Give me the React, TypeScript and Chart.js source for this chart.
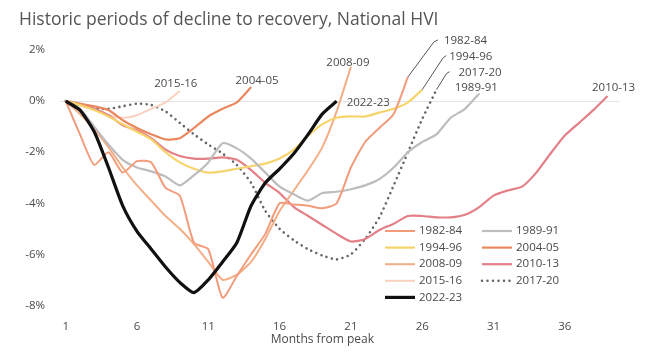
import { useEffect, useRef } from "react";
import { Chart, registerables } from "chart.js";

Chart.register(...registerables);

const titleText = "Historic periods of decline to recovery, National HVI";
const xAxisTitle = "Months from peak";
const months = [1, 2, 3, 4, 5, 6, 7, 8, 9, 10, 11, 12, 13, 14, 15, 16, 17, 18, 19, 20, 21, 22, 23, 24, 25, 26, 27, 28, 29, 30, 31, 32, 33, 34, 35, 36, 37, 38, 39];
const xTicks = [1, 6, 11, 16, 21, 26, 31, 36];
const yTicks = [-8, -6, -4, -2, 0, 2];

const seriesNames = ["1982-84", "1989-91", "1994-96", "2004-05", "2008-09", "2010-13", "2015-16", "2017-20", "2022-23"];

const s1982 = [0, -1.3, -2.5, -2.0, -2.8, -2.35, -2.4, -3.4, -3.7, -5.55, -5.8, -7.7, -6.85, -6.0, -5.2, -4.0, -4.05, -4.1, -4.2, -4.0, -2.6, -1.6, -1.05, -0.5, 0.95];
const s1989 = [0, -0.3, -1.0, -1.7, -2.3, -2.6, -2.75, -2.95, -3.3, -2.9, -2.4, -1.65, -1.85, -2.25, -2.8, -3.35, -3.65, -3.9, -3.6, -3.55, -3.45, -3.3, -3.05, -2.6, -2.0, -1.6, -1.3, -0.65, -0.3, 0.3];
const s1994 = [0, -0.15, -0.35, -0.6, -0.9, -1.2, -1.5, -2.0, -2.4, -2.65, -2.8, -2.75, -2.65, -2.55, -2.45, -2.25, -1.9, -1.35, -0.9, -0.65, -0.6, -0.6, -0.45, -0.3, -0.05, 0.45];
const s2004 = [0, -0.1, -0.2, -0.35, -0.75, -1.05, -1.3, -1.5, -1.45, -1.05, -0.6, -0.3, -0.05, 0.55];
const s2008 = [0, -0.5, -1.1, -1.8, -2.6, -3.3, -3.9, -4.5, -5.0, -5.6, -6.3, -7.0, -6.8, -6.3, -5.4, -4.3, -3.5, -2.7, -1.8, -0.4, 1.35];
const s2010 = [0, -0.15, -0.3, -0.55, -0.95, -1.15, -1.45, -1.9, -2.15, -2.25, -2.25, -2.2, -2.3, -2.7, -3.2, -3.6, -4.15, -4.5, -4.85, -5.2, -5.5, -5.4, -5.05, -4.8, -4.5, -4.5, -4.55, -4.55, -4.45, -4.15, -3.7, -3.5, -3.35, -2.8, -2.05, -1.35, -0.85, -0.35, 0.2];
const s2015 = [0, -0.15, -0.35, -0.55, -0.65, -0.55, -0.3, -0.05, 0.4];
const s2017 = [0, -0.1, -0.3, -0.3, -0.2, -0.1, -0.15, -0.4, -0.85, -1.3, -1.7, -2.05, -2.5, -3.2, -4.3, -5.0, -5.45, -5.8, -6.05, -6.2, -6.0, -5.4, -4.55, -3.3, -2.0, -0.7, 0.45];
const s2022 = [0, -0.35, -1.2, -2.6, -4.1, -5.1, -5.8, -6.5, -7.1, -7.5, -7.0, -6.3, -5.55, -4.1, -3.2, -2.65, -2.05, -1.3, -0.5, 0.0];

const seriesValues = [s1982, s1989, s1994, s2004, s2008, s2010, s2015, s2017, s2022];

const styles: Record<string, any> = {
  "1982-84": { color: "#F29C7C", width: 2 },
  "1989-91": { color: "#BDBDBD", width: 2.2 },
  "1994-96": { color: "#F6D46C", width: 2.2 },
  "2004-05": { color: "#E9885E", width: 2.2 },
  "2008-09": { color: "#F3AE86", width: 2 },
  "2010-13": { color: "#E37F86", width: 2.2 },
  "2015-16": { color: "#F9D2BF", width: 2 },
  "2017-20": { color: "#666666", width: 2.6, dash: [0.001, 5.5] },
  "2022-23": { color: "#111111", width: 3.2 },
};

// label placement relative to each line's last point (pixels)
const labelPlacement: Record<string, any> = {
  "1982-84": { tx: 36, ty: -36, align: "left", leader: [[26, -35], [30, -37]] },
  "1994-96": { tx: 27, ty: -33, align: "left", leader: [[21, -32], [24, -34]] },
  "2017-20": { tx: 22, ty: -17, align: "left", leader: [[10, -16], [13, -18]] },
  "1989-91": { tx: -3, ty: -6, align: "center" },
  "2010-13": { tx: 6, ty: -8, align: "center" },
  "2022-23": { tx: 10, ty: 2, align: "left" },
  "2008-09": { tx: -3, ty: -4, align: "center" },
  "2004-05": { tx: 6, ty: -6, align: "center" },
  "2015-16": { tx: -4, ty: -7, align: "center" },
};

const FONT = '"Open Sans", "Noto Sans", sans-serif';
const TEXT = "#4a4a4a";

const decorations = {
  id: "decorations",
  afterDatasetsDraw(chart: any) {
    const ctx = chart.ctx;
    const area = chart.chartArea;
    ctx.save();
    ctx.font = `11.5px ${FONT}`;
    ctx.textBaseline = "middle";

    // end labels
    chart.data.datasets.forEach((ds: any, i: number) => {
      const meta = chart.getDatasetMeta(i);
      const pt = meta.data[meta.data.length - 1];
      const p = labelPlacement[ds.label];
      if (!pt || !p) return;
      if (p.leader) {
        ctx.strokeStyle = "#555";
        ctx.lineWidth = 1;
        ctx.setLineDash([]);
        ctx.beginPath();
        ctx.moveTo(pt.x, pt.y);
        p.leader.forEach((o: number[]) => ctx.lineTo(pt.x + o[0], pt.y + o[1]));
        ctx.stroke();
      }
      ctx.fillStyle = TEXT;
      ctx.textAlign = p.align;
      ctx.fillText(ds.label, pt.x + p.tx, pt.y + p.ty);
    });

    // legend (two columns, row-major)
    const colX = [area.right - 234, area.right - 137];
    const row0 = area.bottom - 82;
    const rowH = 16.6;
    chart.data.datasets.forEach((ds: any, i: number) => {
      const st = styles[ds.label];
      const cx = colX[i % 2];
      const cy = row0 + Math.floor(i / 2) * rowH;
      ctx.strokeStyle = st.color;
      ctx.lineWidth = st.width;
      ctx.lineCap = st.dash ? "round" : "butt";
      ctx.setLineDash(st.dash || []);
      ctx.beginPath();
      ctx.moveTo(cx, cy);
      ctx.lineTo(cx + 30, cy);
      ctx.stroke();
      ctx.setLineDash([]);
      ctx.fillStyle = TEXT;
      ctx.textAlign = "left";
      ctx.fillText(ds.label, cx + 34, cy);
    });

    // x axis title
    ctx.fillStyle = TEXT;
    ctx.textAlign = "center";
    ctx.font = `12px ${FONT}`;
    const xs = chart.scales.x;
    ctx.fillText(xAxisTitle, xs.getPixelForValue(19), area.bottom + 27);

    // chart title
    ctx.font = `17.5px ${FONT}`;
    ctx.fillStyle = "#555";
    ctx.textAlign = "left";
    ctx.fillText(titleText, 19, 20);
    ctx.restore();
  },
};

export default function App() {
  const ref = useRef<HTMLCanvasElement>(null);

  useEffect(() => {
    if (!ref.current) return;
    const datasets = seriesNames.map((name, i) => {
      const st = styles[name];
      return {
        label: name,
        data: seriesValues[i].map((v, j) => ({ x: months[j], y: v })),
        borderColor: st.color,
        backgroundColor: st.color,
        borderWidth: st.width,
        borderDash: st.dash || [],
        borderCapStyle: st.dash ? "round" : "butt",
        borderJoinStyle: "round",
        pointRadius: 0,
        tension: 0.2,
        fill: false,
        order: name === "2022-23" ? 0 : 1,
      };
    });
    const chart = new Chart(ref.current, {
      type: "line",
      data: { datasets } as any,
      options: {
        animation: false,
        responsive: false,
        devicePixelRatio: 1,
        layout: { padding: { top: 45, right: 31, bottom: 8, left: 8 } },
        plugins: { legend: { display: false }, tooltip: { enabled: false }, title: { display: false } },
        scales: {
          x: {
            type: "linear",
            min: 0.6,
            max: 39.8,
            afterBuildTicks: (s: any) => {
              s.ticks = xTicks.map((v) => ({ value: v }));
            },
            afterFit: (s: any) => {
              s.height = 40;
            },
            grid: { display: false, drawTicks: false },
            border: { display: false },
            ticks: { color: TEXT, font: { family: FONT, size: 11.5 }, padding: 7, autoSkip: false, maxRotation: 0 },
          },
          y: {
            type: "linear",
            min: -8.3,
            max: 2.2,
            afterBuildTicks: (s: any) => {
              s.ticks = yTicks.map((v) => ({ value: v }));
            },
            afterFit: (s: any) => {
              s.width = 52;
            },
            grid: {
              drawTicks: false,
              color: (c: any) => (c.tick && c.tick.value === 0 ? "#e4e4e4" : "rgba(0,0,0,0)"),
              lineWidth: 1,
            },
            border: { display: false },
            ticks: {
              color: TEXT,
              font: { family: FONT, size: 11.5 },
              padding: 15,
              callback: (v: any) => `${v}%`,
            },
          },
        },
      } as any,
      plugins: [decorations],
    });
    return () => chart.destroy();
  }, []);

  return (
    <div style={{ position: "absolute", left: 0, top: 0, width: 650, height: 361, background: "#fff" }}>
      <canvas ref={ref} width={650} height={361} />
    </div>
  );
}
